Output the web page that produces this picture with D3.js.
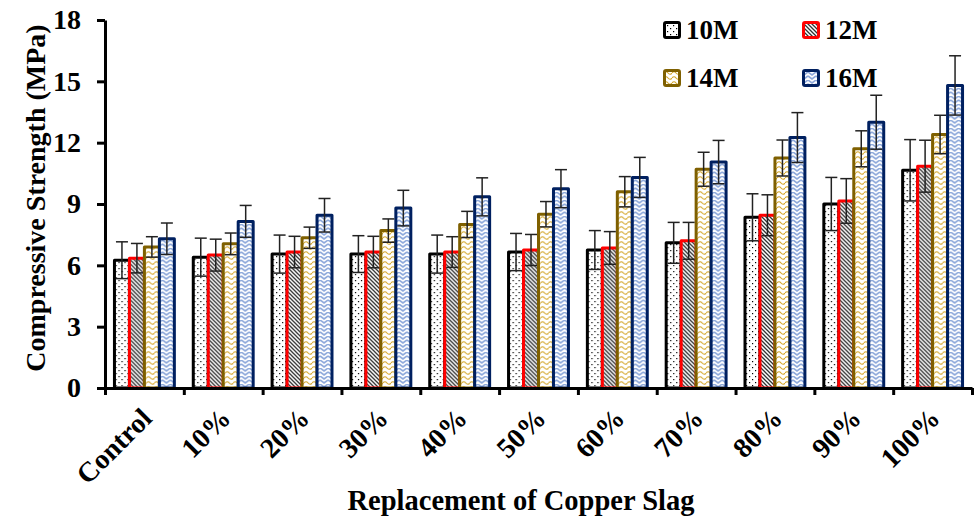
<!DOCTYPE html>
<html>
<head>
<meta charset="utf-8">
<script src="https://cdn.jsdelivr.net/npm/d3@7/dist/d3.min.js"></script>
<style>
  html, body { margin: 0; padding: 0; background: #fff; }
  svg { display: block; }
  text { font-family: "Liberation Serif", serif; font-weight: bold; fill: #000; }
</style>
</head>
<body>
<svg id="chart" width="974" height="518"></svg>
<script>
// Compressive strength (MPa) per copper slag replacement level and molarity
const categories = ["Control", "10%", "20%", "30%", "40%", "50%", "60%", "70%", "80%", "90%", "100%"];
const seriesNames = ["10M", "12M", "14M", "16M"];

const m10 = [6.25, 6.4, 6.55, 6.55, 6.55, 6.65, 6.75, 7.1, 8.35, 9.0, 10.65];
const m12 = [6.35, 6.5, 6.65, 6.65, 6.65, 6.75, 6.85, 7.2, 8.45, 9.15, 10.85];
const m14 = [6.9, 7.05, 7.35, 7.7, 8.0, 8.5, 9.6, 10.7, 11.25, 11.7, 12.4];
const m16 = [7.3, 8.15, 8.45, 8.8, 9.35, 9.75, 10.3, 11.05, 12.25, 13.0, 14.8];

// Standard deviations (error bars)
const e10 = [0.9, 0.93, 0.93, 0.9, 0.93, 0.91, 0.95, 1.0, 1.15, 1.3, 1.5];
const e12 = [0.72, 0.78, 0.77, 0.77, 0.75, 0.76, 0.8, 0.9, 1.0, 1.09, 1.27];
const e14 = [0.5, 0.53, 0.52, 0.57, 0.64, 0.62, 0.74, 0.83, 0.88, 0.88, 0.94];
const e16 = [0.77, 0.78, 0.82, 0.87, 0.93, 0.93, 0.98, 1.06, 1.22, 1.32, 1.45];

const yTicks = [0, 3, 6, 9, 12, 15, 18];

const values = [m10, m12, m14, m16];
const errors = [e10, e12, e14, e16];
const strokeColors = ["#000000", "#FF0000", "#7F6000", "#002060"];
const patternIds = ["pat10", "pat12", "pat14", "pat16"];

const svg = d3.select("#chart");
const plotLeft = 105, plotRight = 972, plotTop = 20, plotBottom = 388;
const FONT = "'Liberation Serif', serif";

const x0 = d3.scaleBand().domain(categories).range([plotLeft, plotRight]).paddingInner(0.24).paddingOuter(0.12);
const x1 = d3.scaleBand().domain(seriesNames).range([0, x0.bandwidth()]).padding(0);
const y = d3.scaleLinear().domain([0, 18]).range([plotBottom, plotTop]);
const edge = d3.scaleLinear().domain([0, categories.length]).range([plotLeft, plotRight]);

// ---- fill patterns ----
const defs = svg.append("defs");

// dotted
const p10 = defs.append("pattern").attr("id", "pat10").attr("patternUnits", "userSpaceOnUse")
  .attr("width", 6).attr("height", 6);
p10.append("rect").attr("width", 6).attr("height", 6).attr("fill", "#fff");
p10.append("rect").attr("x", 1).attr("y", 1).attr("width", 1.2).attr("height", 1.2).attr("fill", "#000");
p10.append("rect").attr("x", 4).attr("y", 4).attr("width", 1.2).attr("height", 1.2).attr("fill", "#000");

// diagonal stripes
const p12 = defs.append("pattern").attr("id", "pat12").attr("patternUnits", "userSpaceOnUse")
  .attr("width", 4).attr("height", 4);
p12.append("rect").attr("width", 4).attr("height", 4).attr("fill", "#fff");
p12.append("path").attr("d", "M-1,-1 L5,5 M-1,3 L1,5 M3,-1 L5,1")
  .attr("stroke", "#333").attr("stroke-width", 1.3);

// waves
const p14 = defs.append("pattern").attr("id", "pat14").attr("patternUnits", "userSpaceOnUse")
  .attr("width", 8).attr("height", 5);
p14.append("rect").attr("width", 8).attr("height", 5).attr("fill", "#fff");
p14.append("path").attr("d", "M0,3 Q2,0.5 4,3 T8,3")
  .attr("fill", "none").attr("stroke", "#D4A62A").attr("stroke-width", 1.2);

// zigzag
const p16 = defs.append("pattern").attr("id", "pat16").attr("patternUnits", "userSpaceOnUse")
  .attr("width", 8).attr("height", 8);
p16.append("rect").attr("width", 8).attr("height", 8).attr("fill", "#fff");
p16.append("path").attr("d", "M0,0 L4,3 L8,0 M0,4 L4,7 L8,4")
  .attr("fill", "none").attr("stroke", "#8EA9DB").attr("stroke-width", 1.6);

// ---- bars ----
const groups = svg.append("g").selectAll("g")
  .data(categories)
  .join("g")
  .attr("transform", d => `translate(${x0(d)},0)`);

seriesNames.forEach((s, si) => {
  groups.append("rect")
    .attr("x", x1(s))
    .attr("width", x1.bandwidth())
    .attr("y", (d, i) => y(values[si][i]))
    .attr("height", (d, i) => y(0) - y(values[si][i]))
    .attr("fill", `url(#${patternIds[si]})`)
    .attr("stroke", strokeColors[si])
    .attr("stroke-width", 3)
    .attr("stroke-linejoin", "round");
});

// ---- error bars ----
seriesNames.forEach((s, si) => {
  const cx = x1(s) + x1.bandwidth() / 2;
  const eb = groups.append("g").attr("stroke", "#222").attr("stroke-width", 1.5);
  eb.append("line")
    .attr("x1", cx).attr("x2", cx)
    .attr("y1", (d, i) => y(values[si][i] - errors[si][i]))
    .attr("y2", (d, i) => y(values[si][i] + errors[si][i]));
  eb.append("line")
    .attr("x1", cx - 6).attr("x2", cx + 6)
    .attr("y1", (d, i) => y(values[si][i] + errors[si][i]))
    .attr("y2", (d, i) => y(values[si][i] + errors[si][i]));
  eb.append("line")
    .attr("x1", cx - 6).attr("x2", cx + 6)
    .attr("y1", (d, i) => y(values[si][i] - errors[si][i]))
    .attr("y2", (d, i) => y(values[si][i] - errors[si][i]));
});

// ---- axes ----
const yAxis = svg.append("g")
  .attr("transform", `translate(${plotLeft},0)`)
  .call(d3.axisLeft(y).tickValues(yTicks).tickSize(8).tickSizeOuter(0).tickPadding(16));
yAxis.select(".domain").attr("stroke", "#000").attr("stroke-width", 3);
yAxis.selectAll(".tick line").attr("stroke", "#000").attr("stroke-width", 3);
yAxis.selectAll(".tick text").style("font-size", "28px").style("font-family", FONT);

const xAxis = svg.append("g")
  .attr("transform", `translate(0,${plotBottom})`)
  .call(d3.axisBottom(edge).tickValues(d3.range(categories.length + 1)).tickFormat("").tickSize(7).tickSizeOuter(0));
xAxis.select(".domain").attr("stroke", "#000").attr("stroke-width", 3);
xAxis.selectAll(".tick line").attr("stroke", "#000").attr("stroke-width", 3);

// category labels, rotated
svg.append("g").selectAll("text")
  .data(categories)
  .join("text")
  .attr("transform", d => `translate(${x0(d) + x0.bandwidth() / 2 + 9},${plotBottom + 32}) rotate(-45)`)
  .attr("text-anchor", "end")
  .style("font-family", FONT)
  .style("font-size", "28px")
  .text(d => d);

// axis titles
svg.append("text")
  .attr("x", 521).attr("y", 510)
  .attr("text-anchor", "middle")
  .style("font-family", FONT)
  .style("font-size", "28.5px")
  .text("Replacement of Copper Slag");

svg.append("text")
  .attr("transform", `translate(45,198) rotate(-90)`)
  .attr("text-anchor", "middle")
  .style("font-family", FONT)
  .style("font-size", "28px")
  .text("Compressive Strength (MPa)");

// ---- legend ----
const legendPos = [[663, 21], [802, 21], [663, 69], [802, 69]];
const legend = svg.append("g");
seriesNames.forEach((s, si) => {
  const [lx, ly] = legendPos[si];
  legend.append("rect")
    .attr("x", lx + 1.5).attr("y", ly + 1.5)
    .attr("width", 15).attr("height", 15)
    .attr("rx", 1.5)
    .attr("fill", `url(#${patternIds[si]})`)
    .attr("stroke", strokeColors[si])
    .attr("stroke-width", 3);
  legend.append("text")
    .attr("x", lx + 23).attr("y", ly + 18)
    .style("font-family", FONT)
    .style("font-size", "27px")
    .text(s);
});
</script>
</body>
</html>
